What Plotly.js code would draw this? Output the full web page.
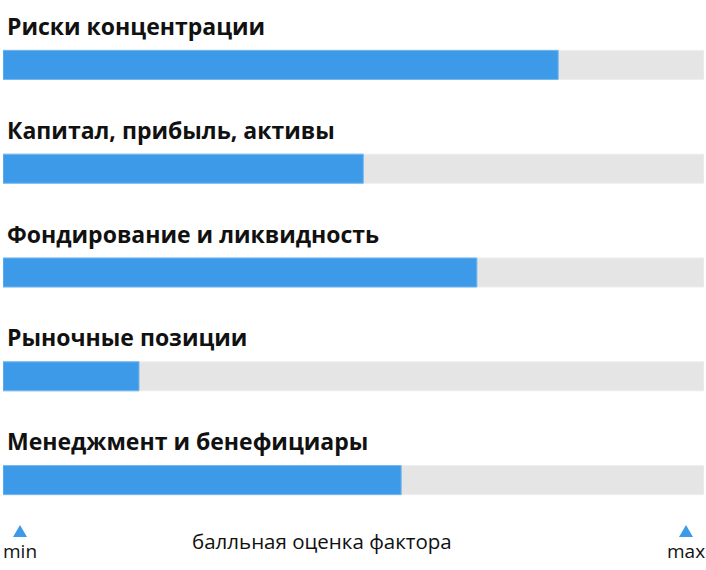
<!DOCTYPE html>
<html><head><meta charset="utf-8">
<script src="https://cdn.plot.ly/plotly-3.0.1.min.js"></script>
<style>html,body{margin:0;padding:0;background:#fff}#chart{width:706px;height:570px}</style>
</head><body><div id="chart"></div>
<script>
const categories = ["Риски концентрации","Капитал, прибыль, активы","Фондирование и ликвидность","Рыночные позиции","Менеджмент и бенефициары"];
const scores = [79.2, 51.4, 67.6, 19.4, 56.8];
const maxScore = [100, 100, 100, 100, 100];
const axisLabels = {min: "min", max: "max", title: "балльная оценка фактора"};

const blue = "#3d9ae8";
const traces = [
  {type:"bar", orientation:"h", y:categories, x:maxScore, marker:{color:"#e5e5e5", line:{color:"#eeeeee", width:1}}, width:0.28, hoverinfo:"skip"},
  {type:"bar", orientation:"h", y:categories, x:scores, marker:{color:blue, line:{color:"#74b6ef", width:1}}, width:0.28}
];
const annotations = categories.map(c => ({
  text: c, x: 0, xref: "paper", y: c, yref: "y", xanchor: "left", yanchor: "middle",
  xshift: 2, yshift: 39, showarrow: false,
  font: {family: "Open Sans", size: 23, color: "#111", weight: 700}
}));
annotations.push(
  {text:axisLabels.min, x:0, xref:"paper", y:0, yref:"paper", xanchor:"center", yanchor:"middle", xshift:17, yshift:-19, showarrow:false, font:{family:"Open Sans", size:19, color:"#111"}},
  {text:axisLabels.max, x:1, xref:"paper", y:0, yref:"paper", xanchor:"center", yanchor:"middle", xshift:-18, yshift:-19, showarrow:false, font:{family:"Open Sans", size:19, color:"#111"}},
  {text:axisLabels.title, x:0.455, xref:"paper", y:0, yref:"paper", xanchor:"center", yanchor:"middle", yshift:-9, showarrow:false, font:{family:"Open Sans", size:20.5, color:"#111"}}
);
const tri = (x0) => ({type:"path", xref:"paper", yref:"paper", xsizemode:"pixel", ysizemode:"pixel",
  xanchor: x0 === 0 ? 0 : 1, yanchor: 0,
  path: x0 === 0 ? "M10,-5 L24,-5 L17,7 Z" : "M-25,-5 L-11,-5 L-18,7 Z",
  fillcolor: blue, line:{width:0}});
const layout = {
  width:706, height:570, margin:{l:3, r:2, t:13, b:38},
  paper_bgcolor:"#fff", plot_bgcolor:"#fff", barmode:"overlay", showlegend:false,
  xaxis:{range:[0,100], visible:false, fixedrange:true},
  yaxis:{type:"category", range:[4.5,-0.5], visible:false, fixedrange:true},
  annotations: annotations,
  shapes: [tri(0), tri(1)]
};
Plotly.newPlot("chart", traces, layout, {displayModeBar:false, staticPlot:true});
</script></body></html>
